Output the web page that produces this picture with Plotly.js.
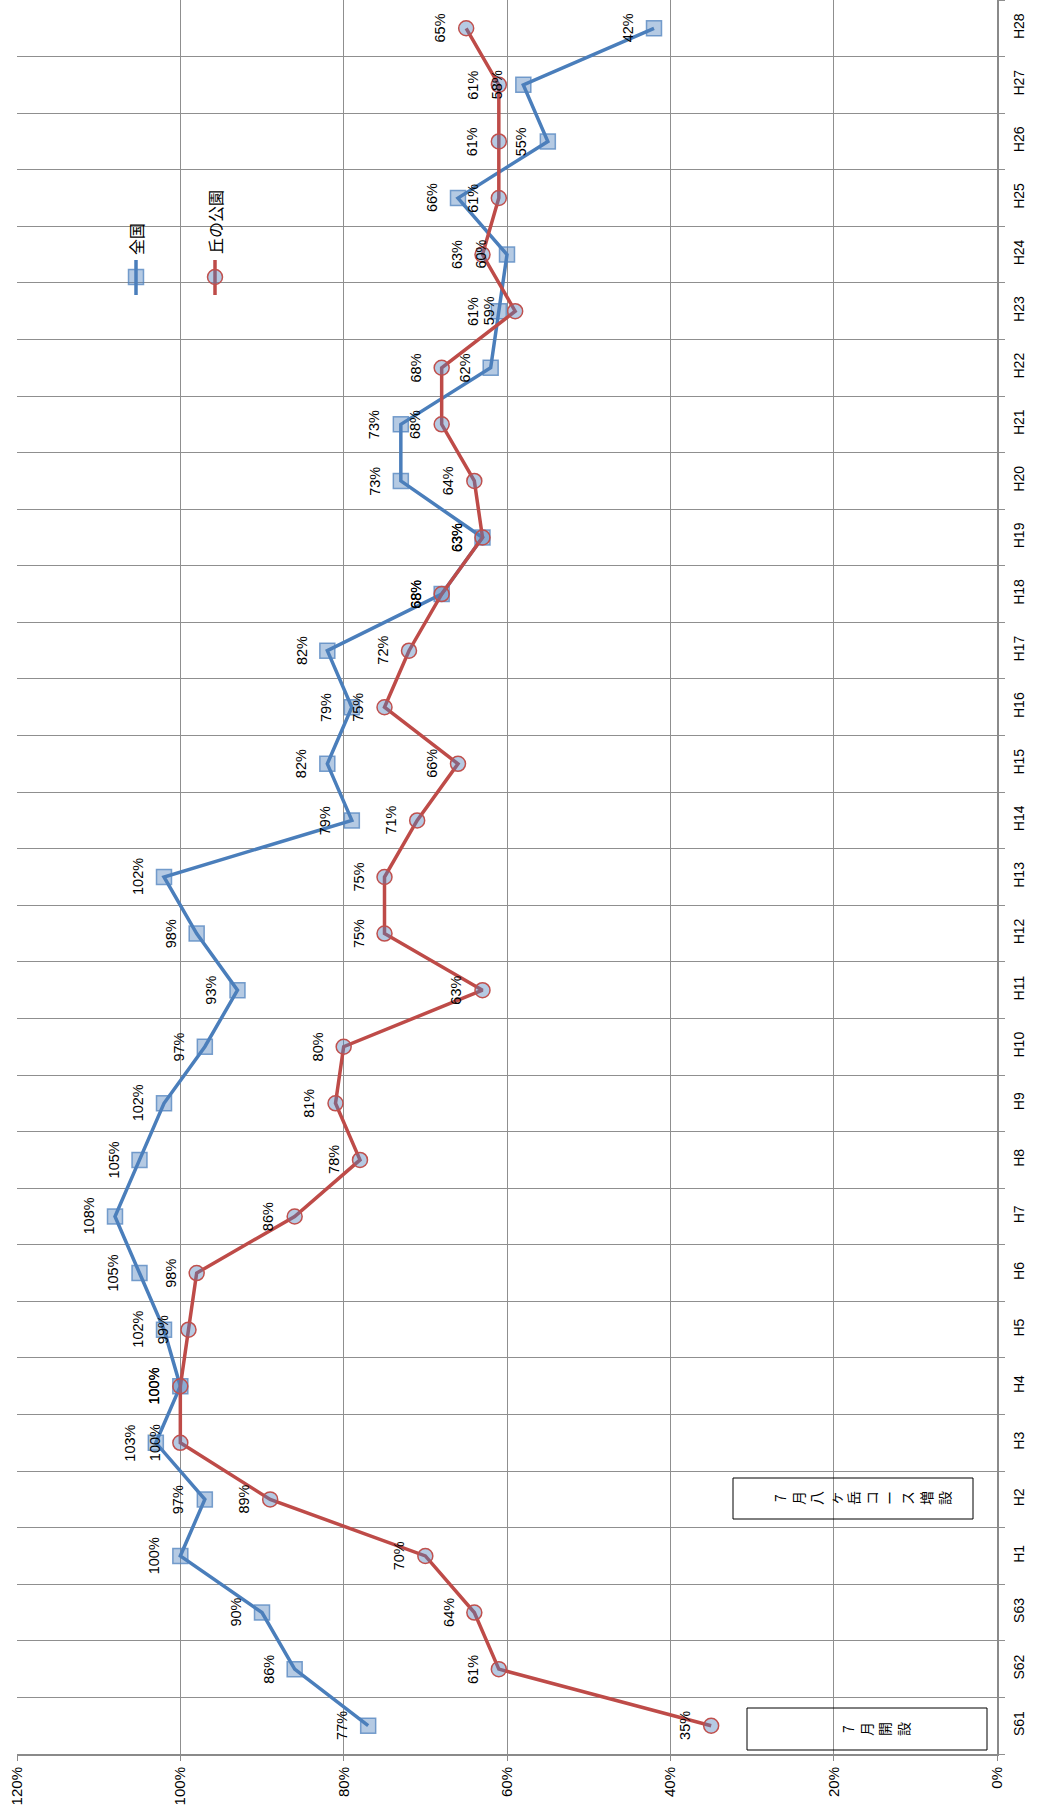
<!DOCTYPE html>
<html><head><meta charset="utf-8">
<script src="https://cdn.plot.ly/plotly-3.0.1.min.js"></script>
<style>html,body{margin:0;padding:0;background:#fff}</style>
</head><body>
<div id="chart" style="width:1043px;height:1816px"></div>
<script>
// ---- data ----
const categories = ['S61','S62','S63','H1','H2','H3','H4','H5','H6','H7','H8','H9','H10','H11','H12','H13','H14','H15','H16','H17','H18','H19','H20','H21','H22','H23','H24','H25','H26','H27','H28'];
const zenkoku = [77,86,90,100,97,103,100,102,105,108,105,102,97,93,98,102,79,82,79,82,68,63,73,73,62,61,60,66,55,58,42];
const okaNoKoen = [35,61,64,70,89,100,100,99,98,86,78,81,80,63,75,75,71,66,75,72,68,63,64,68,68,59,63,61,61,61,65];
const seriesNames = ['全国','丘の公園'];
const xTickValues = [0,20,40,60,80,100,120];
const noteOpen = '7月開設';
const noteExpand = '7月八ヶ岳コース増設';

// ---- styling ----
const W = 1043, H = 1816;
const M = {l:17, r:46, t:0, b:62};
const PW = W - M.l - M.r, PH = H - M.t - M.b;
const px = x => (x - M.l) / PW;
const py = y => (M.t + PH - y) / PH;
const numFont = 'Liberation Sans, Arial, sans-serif';
const cjkFont = 'Noto Sans CJK JP, sans-serif';
const blue = '#4a7ebb', red = '#be4b48';
const mFill = 'rgba(79,129,189,0.42)';
const grid = '#8f8f8f';

const traces = [
  {type:'scatter', mode:'lines+markers', name:seriesNames[0], x:zenkoku, y:categories,
   line:{color:blue, width:3.5},
   marker:{symbol:'square', size:15, color:mFill, line:{color:'rgba(79,129,189,0.75)', width:1.5}},
   hoverinfo:'skip'},
  {type:'scatter', mode:'lines+markers', name:seriesNames[1], x:okaNoKoen, y:categories,
   line:{color:red, width:3.5},
   marker:{symbol:'circle', size:15, color:mFill, line:{color:'#c0504d', width:1.5}},
   hoverinfo:'skip'}
];

const annotations = [];
[zenkoku, okaNoKoen].forEach(vals => {
  vals.forEach((v,i) => {
    annotations.push({x:v, y:categories[i], xref:'x', yref:'y', text:v+'%', showarrow:false,
      textangle:-90, xshift:-26, xanchor:'center', yanchor:'middle',
      font:{family:numFont, size:14.5, color:'#000'}});
  });
});
// legend texts
annotations.push({x:px(136), y:py(239), xref:'paper', yref:'paper', text:seriesNames[0], showarrow:false,
  textangle:-90, xanchor:'center', yanchor:'middle', font:{family:cjkFont, size:16, color:'#000'}});
annotations.push({x:px(215), y:py(222), xref:'paper', yref:'paper', text:seriesNames[1], showarrow:false,
  textangle:-90, xanchor:'center', yanchor:'middle', font:{family:cjkFont, size:16, color:'#000'}});
// note texts (vertical text, rotated)
annotations.push({x:px(862), y:py(1498), xref:'paper', yref:'paper', text:Array.from(noteExpand).join('<br>'), showarrow:false,
  textangle:-90, xanchor:'center', yanchor:'middle', font:{family:cjkFont, size:14, color:'#000'}});
annotations.push({x:px(875), y:py(1729), xref:'paper', yref:'paper', text:Array.from(noteOpen).join('<br>'), showarrow:false,
  textangle:-90, xanchor:'center', yanchor:'middle', font:{family:cjkFont, size:14, color:'#000'}});

const shapes = [
  // legend background
  {type:'rect', xref:'paper', yref:'paper', x0:px(95), x1:px(256), y0:py(336), y1:py(148), fillcolor:'#fff', line:{width:0}, layer:'between'},
  {type:'line', xref:'paper', yref:'paper', x0:px(136), x1:px(136), y0:py(295), y1:py(260), line:{color:blue, width:3.5}, layer:'above'},
  {type:'rect', xref:'paper', yref:'paper', x0:px(128.5), x1:px(143.5), y0:py(284.5), y1:py(269.5), fillcolor:mFill, line:{color:'rgba(79,129,189,0.75)', width:1.5}, layer:'above'},
  {type:'line', xref:'paper', yref:'paper', x0:px(215), x1:px(215), y0:py(295), y1:py(260), line:{color:red, width:3.5}, layer:'above'},
  {type:'circle', xref:'paper', yref:'paper', x0:px(207.5), x1:px(222.5), y0:py(284.5), y1:py(269.5), fillcolor:mFill, line:{color:'#c0504d', width:1.5}, layer:'above'},
  // note boxes
  {type:'rect', xref:'paper', yref:'paper', x0:px(733), x1:px(973), y0:py(1519), y1:py(1478), line:{color:'#000', width:1}, layer:'above'},
  {type:'rect', xref:'paper', yref:'paper', x0:px(747), x1:px(987), y0:py(1750), y1:py(1708), line:{color:'#000', width:1}, layer:'above'}
];

const layout = {
  width:W, height:H, margin:M, paper_bgcolor:'#fff', plot_bgcolor:'#fff', showlegend:false,
  xaxis:{range:[120,0], tickmode:'array', tickvals:xTickValues, ticktext:xTickValues.map(v=>v+'%'),
    tickangle:-90, showgrid:true, gridcolor:grid, gridwidth:1, zeroline:false,
    showline:true, linecolor:'#8a8a8a', linewidth:2, ticks:'outside', ticklen:5, tickcolor:'#8a8a8a',
    tickfont:{family:numFont, size:15, color:'#000'}, fixedrange:true},
  yaxis:{type:'category', categoryorder:'array', categoryarray:categories, range:[-0.5,30.5],
    side:'right', tickson:'boundaries', ticks:'outside', ticklen:6, tickcolor:grid,
    ticklabelstandoff:9,
    showgrid:true, gridcolor:grid, gridwidth:1, showline:true, linecolor:'#8a8a8a', linewidth:1.5,
    tickangle:-90, tickfont:{family:numFont, size:14, color:'#000'}, fixedrange:true},
  annotations:annotations, shapes:shapes
};
Plotly.newPlot('chart', traces, layout, {staticPlot:true});
</script>
</body></html>
